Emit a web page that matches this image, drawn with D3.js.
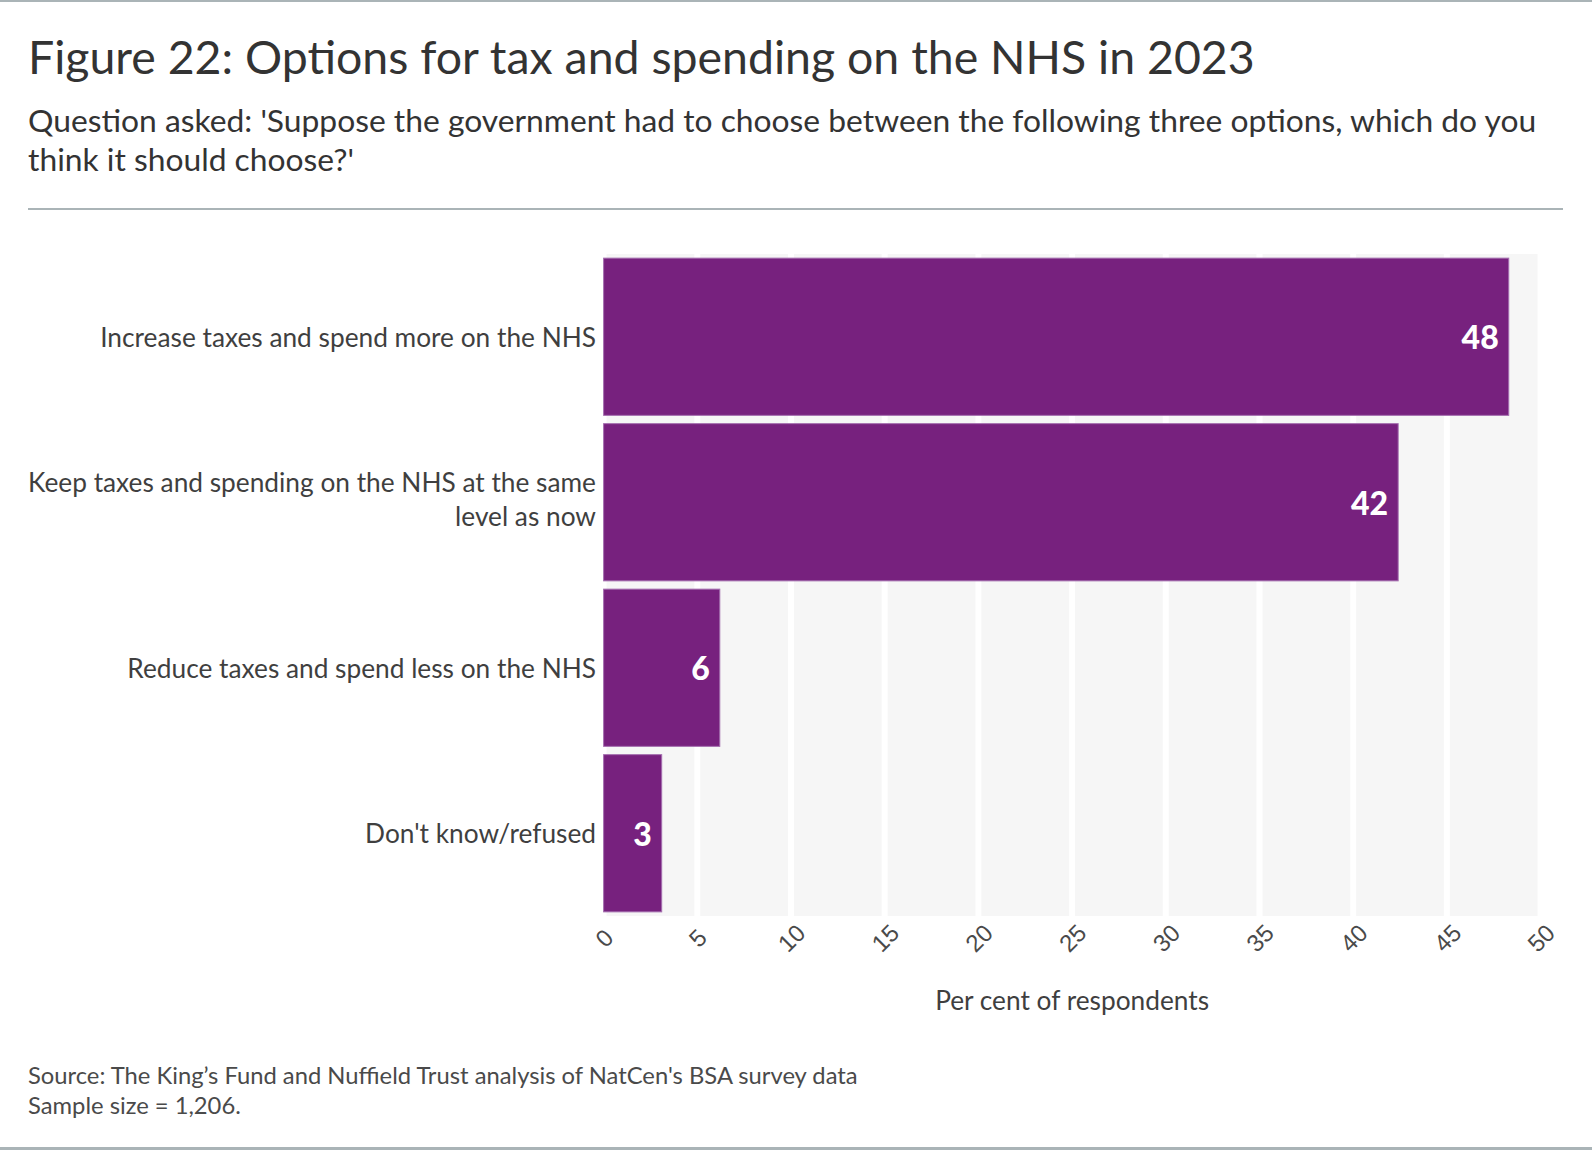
<!DOCTYPE html>
<html>
<head>
<meta charset="utf-8">
<script src="https://cdn.jsdelivr.net/npm/d3@7"></script>
<style>
  html, body { margin: 0; padding: 0; background: #fff; }
  svg { display: block; font-family: "Source Sans Pro", Lato, "Noto Sans", sans-serif; }
</style>
</head>
<body>
<svg id="chart" width="1592" height="1150"></svg>
<script>
// ---- data ----
const categories = [
  "Increase taxes and spend more on the NHS",
  "Keep taxes and spending on the NHS at the same level as now",
  "Reduce taxes and spend less on the NHS",
  "Don't know/refused"
];
const values = [48.3, 42.4, 6.2, 3.1];
const valueLabels = ["48", "42", "6", "3"];
const xTicks = [0, 5, 10, 15, 20, 25, 30, 35, 40, 45, 50];
const titleText = "Figure 22: Options for tax and spending on the NHS in 2023";
const subtitleLines = [
  "Question asked: 'Suppose the government had to choose between the following three options, which do you",
  "think it should choose?'"
];
const xAxisTitle = "Per cent of respondents";
const sourceLines = [
  "Source: The King\u2019s Fund and Nuffield Trust analysis of NatCen's BSA survey data",
  "Sample size = 1,206."
];

// ---- layout ----
const W = 1592, H = 1150;
const svg = d3.select("#chart");
const textColor = "#333333";
const barColor = "#77217e";

function fitWidth(sel, target, base) {
  sel.style("font-size", base + "px");
  const w = sel.node().getComputedTextLength();
  const size = base * target / w;
  sel.style("font-size", size + "px");
  return size;
}

// frame lines
svg.append("rect").attr("x", 0).attr("y", 0).attr("width", W).attr("height", 2).attr("fill", "#aab4b7");
svg.append("rect").attr("x", 0).attr("y", H - 3).attr("width", W).attr("height", 3).attr("fill", "#aab4b7");
svg.append("rect").attr("x", 28).attr("y", 208).attr("width", 1535).attr("height", 2).attr("fill", "#aab4b7");

// title
const title = svg.append("text").attr("x", 28).attr("y", 74).attr("fill", textColor).text(titleText);
fitWidth(title, 1227, 46);

// subtitle
const sub = svg.append("g");
let subSize = null;
subtitleLines.forEach((l, i) => {
  const t = sub.append("text").attr("x", 28).attr("y", 132 + i * 39).attr("fill", textColor).text(l);
  if (i === 0) subSize = fitWidth(t, 1509, 30);
  else t.style("font-size", subSize + "px");
});

// plot area
const x = d3.scaleLinear().domain([0, 50]).range([603.6, 1540.6]);
const y = d3.scaleBand().domain(categories).range([254, 916]).paddingInner(0.05).paddingOuter(0.025);

// background panel
svg.append("rect")
  .attr("x", x(0)).attr("y", 254)
  .attr("width", x(50) - x(0)).attr("height", 916 - 254)
  .attr("fill", "#f6f6f6");

// white gridlines
svg.append("g").selectAll("line").data(xTicks).join("line")
  .attr("x1", d => x(d)).attr("x2", d => x(d))
  .attr("y1", 254).attr("y2", 916)
  .attr("stroke", "#ffffff").attr("stroke-width", 6);

// bars
svg.append("g").selectAll("rect").data(values).join("rect")
  .attr("x", x(0))
  .attr("y", (d, i) => y(categories[i]))
  .attr("width", d => x(d) - x(0))
  .attr("height", y.bandwidth())
  .attr("fill", barColor)
  .attr("stroke", "#a56fb0").attr("stroke-width", 1);

// value labels
svg.append("g").selectAll("text").data(values).join("text")
  .attr("x", d => x(d) - 10)
  .attr("y", (d, i) => y(categories[i]) + y.bandwidth() / 2)
  .attr("text-anchor", "end")
  .attr("dominant-baseline", "central")
  .attr("fill", "#ffffff")
  .style("font-weight", "900")
  .style("font-size", "32px")
  .text((d, i) => valueLabels[i]);

// category labels (wrapped)
const catG = svg.append("g");
const probe = catG.append("text").text(categories[0]);
const catSize = fitWidth(probe, 496, 26);
probe.remove();
const maxLabelW = 575;
categories.forEach(c => {
  const words = c.split(" ");
  const t = catG.append("text").attr("text-anchor", "end").attr("fill", "#3f3f3f").style("font-size", catSize + "px");
  let lines = [], cur = [];
  const tmp = t.append("tspan");
  words.forEach(w => {
    const test = cur.concat([w]).join(" ");
    tmp.text(test);
    if (tmp.node().getComputedTextLength() > maxLabelW && cur.length) {
      lines.push(cur.join(" "));
      cur = [w];
    } else cur.push(w);
  });
  lines.push(cur.join(" "));
  tmp.remove();
  const lh = 34;
  const cy = y(c) + y.bandwidth() / 2 - (lines.length > 1 ? 3 : 0);
  const y0 = cy - (lines.length - 1) * lh / 2;
  lines.forEach((l, i) => {
    t.append("tspan").attr("x", 596).attr("y", y0 + i * lh).attr("dominant-baseline", "central").text(l);
  });
});

// x axis
const axis = svg.append("g").attr("transform", "translate(0,916)")
  .call(d3.axisBottom(x).tickValues(xTicks).tickSize(0).tickFormat(d3.format("d")));
axis.select(".domain").remove();
axis.selectAll("text")
  .attr("fill", "#4a4a4a")
  .style("font-size", "24px")
  .style("font-family", "inherit")
  .attr("y", 0).attr("dy", null)
  .attr("text-anchor", "middle")
  .attr("dominant-baseline", "central")
  .attr("transform", "translate(0,22) rotate(-45)");

// axis title
svg.append("text")
  .attr("x", (x(0) + x(50)) / 2).attr("y", 1010)
  .attr("text-anchor", "middle").attr("fill", "#3f3f3f")
  .style("font-size", catSize + "px")
  .text(xAxisTitle);

// source
let srcSize = null;
sourceLines.forEach((l, i) => {
  const t = svg.append("text").attr("x", 28).attr("y", 1084 + i * 30).attr("fill", "#4a4a4a").text(l);
  if (i === 0) srcSize = fitWidth(t, 830, 22);
  else t.style("font-size", srcSize + "px");
});
</script>
</body>
</html>
